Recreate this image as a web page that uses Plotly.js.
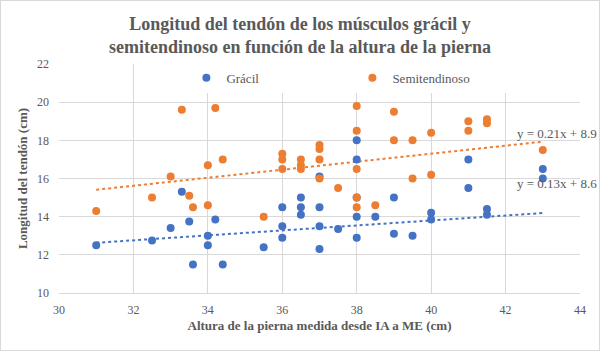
<!DOCTYPE html>
<html>
<head>
<meta charset="utf-8">
<script src="https://cdn.plot.ly/plotly-3.0.1.min.js"></script>
<style>
  html, body { margin: 0; padding: 0; background: #fff; }
  #wrap { position: relative; width: 600px; height: 351px; }
  #chart { width: 600px; height: 351px; }
  #frame { position: absolute; left: 0; top: 0; width: 598px; height: 349px; border: 1px solid #d9d9d9; pointer-events: none; }
</style>
</head>
<body>
<div id="wrap"><div id="chart"></div><div id="frame"></div></div>
<script>
// Altura de la pierna (cm) for each measurement
const gracilX = [31, 32.5, 33, 33.3, 33.5, 33.6, 34, 34, 34.2, 34.4, 35.5, 36, 36, 36, 36.5, 36.5, 36.5, 37, 37, 37, 37, 37.5, 38, 38, 38, 38, 38, 38.5, 39, 39, 39.5, 40, 40, 41, 41, 41.5, 41.5, 43, 43];
const gracilY = [12.5, 12.75, 13.4, 15.3, 13.75, 11.5, 13.0, 12.5, 13.85, 11.5, 12.4, 14.5, 13.5, 12.9, 15.0, 14.5, 14.1, 16.1, 14.5, 13.5, 12.3, 13.35, 18.0, 17.0, 15.0, 14.0, 12.9, 14.0, 15.0, 13.1, 13.0, 14.2, 13.85, 17.0, 15.5, 14.4, 14.1, 16.5, 16.0];
const semiX = [31, 32.5, 33, 33.3, 33.5, 33.6, 34, 34, 34.2, 34.4, 35.5, 36, 36, 36, 36.5, 36.5, 36.5, 37, 37, 37, 37, 37.5, 38, 38, 38, 38, 38, 38.5, 39, 39, 39.5, 39.5, 40, 40, 41, 41, 41.5, 41.5, 43];
const semiY = [14.3, 15.0, 16.1, 19.6, 15.1, 14.5, 16.7, 14.6, 19.7, 17.0, 14.0, 17.3, 17.0, 16.5, 17.0, 16.7, 16.5, 17.75, 17.55, 17.0, 16.0, 15.5, 19.8, 18.5, 16.5, 15.0, 14.5, 14.6, 19.5, 18.0, 18.0, 16.0, 18.4, 16.2, 19.0, 18.5, 19.1, 18.9, 17.5];
// Linear trend coefficients as printed on the chart [slope, intercept]
const gracilFit = [0.13, 8.6];
const semiFit = [0.21, 8.9];
const seriesNames = ["Grácil", "Semitendinoso"];
const fitLabels = ["y = 0.13x + 8.6", "y = 0.21x + 8.9"];
const xTicks = [30, 32, 34, 36, 38, 40, 42, 44];
const yTicks = [10, 12, 14, 16, 18, 20, 22];

const BLUE = "#4472C4", ORANGE = "#ED7D31", TXT = "#595959";
const FONT = "Liberation Serif, Times New Roman, serif";

function trend(xs, fit) {
  const lo = Math.min(...xs), hi = Math.max(...xs);
  return { x: [lo, hi], y: [fit[0] * lo + fit[1], fit[0] * hi + fit[1]] };
}
const tg = trend(gracilX, gracilFit);
const ts = trend(semiX, semiFit);

const data = [
  { type: "scatter", mode: "lines", x: tg.x, y: tg.y, line: { color: BLUE, width: 2, dash: "dot" }, showlegend: false, hoverinfo: "skip" },
  { type: "scatter", mode: "lines", x: ts.x, y: ts.y, line: { color: ORANGE, width: 2, dash: "dot" }, showlegend: false, hoverinfo: "skip" },
  { type: "scatter", mode: "markers", name: seriesNames[0], x: gracilX, y: gracilY, marker: { color: BLUE, size: 8 } },
  { type: "scatter", mode: "markers", name: seriesNames[1], x: semiX, y: semiY, marker: { color: ORANGE, size: 8 } }
];

const layout = {
  width: 600, height: 351,
  margin: { l: 59, r: 20, t: 64, b: 58 },
  paper_bgcolor: "#ffffff", plot_bgcolor: "#ffffff",
  font: { family: FONT, color: TXT, size: 12 },
  title: {
    text: "Longitud del tendón de los músculos grácil y<br>semitendinoso en función de la altura de la pierna",
    font: { family: FONT, size: 18, color: TXT, weight: "bold" },
    x: 0.5, xanchor: "center", y: 0.9155, yanchor: "middle", yref: "container"
  },
  xaxis: {
    range: [30, 44], tickvals: xTicks, ticktext: xTicks.map(String),
    showgrid: true, gridcolor: "#d9d9d9", gridwidth: 1, zeroline: false,
    showline: true, linecolor: "#d9d9d9", ticks: "", ticklabelstandoff: 6,
    tickfont: { family: FONT, size: 12, color: TXT },
    title: { text: "Altura de la pierna medida desde IA a ME (cm)", font: { family: FONT, size: 13, color: TXT, weight: "bold" }, standoff: 4 }
  },
  yaxis: {
    range: [10, 22], tickvals: yTicks, ticktext: yTicks.map(String),
    showgrid: true, gridcolor: "#d9d9d9", gridwidth: 1, zeroline: false,
    showline: false, ticks: "", ticklabelstandoff: 9,
    tickfont: { family: FONT, size: 12, color: TXT },
    title: { text: "Longitud del tendón (cm)", font: { family: FONT, size: 13, color: TXT, weight: "bold" }, standoff: 6 }
  },
  legend: {
    orientation: "h", x: 0.2445, xanchor: "left", y: 0.94, yanchor: "middle",
    bgcolor: "#ffffff", font: { family: FONT, size: 13, color: TXT },
    entrywidth: 121, entrywidthmode: "pixels", itemclick: false
  },
  annotations: [
    { xref: "x", yref: "y", x: 43.38, y: 18.36, text: fitLabels[1], showarrow: false, font: { family: FONT, size: 13, color: TXT } },
    { xref: "x", yref: "y", x: 43.38, y: 15.74, text: fitLabels[0], showarrow: false, font: { family: FONT, size: 13, color: TXT } }
  ],
  showlegend: true
};

Plotly.newPlot("chart", data, layout, { displayModeBar: false, staticPlot: true });
</script>
</body>
</html>
